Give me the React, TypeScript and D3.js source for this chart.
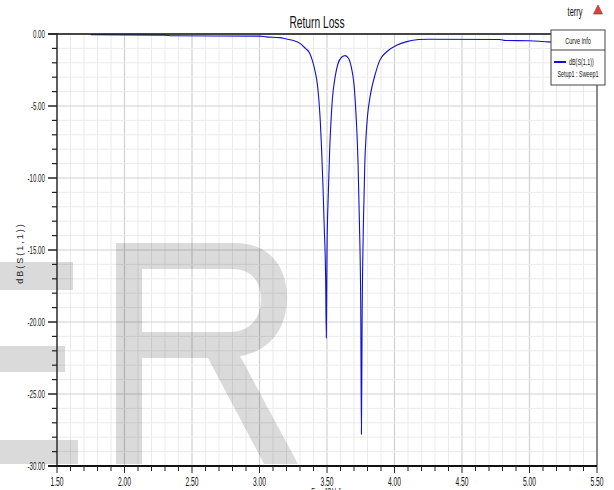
import React from "react";
import * as d3 from "d3";

const freq = [1.75, 2.3, 2.35, 3.0, 3.05, 3.15, 3.2, 3.25, 3.3, 3.34, 3.37, 3.39, 3.41, 3.43, 3.44, 3.45, 3.46, 3.47, 3.48, 3.49, 3.495, 3.5, 3.51, 3.52, 3.53, 3.54, 3.56, 3.58, 3.61, 3.635, 3.66, 3.68, 3.7, 3.71, 3.72, 3.73, 3.74, 3.75, 3.755, 3.76, 3.77, 3.78, 3.79, 3.8, 3.82, 3.86, 3.89, 3.94, 4.02, 4.09, 4.18, 4.25, 4.78, 4.82, 5.0, 5.1, 5.2, 5.5];
const dbS11 = [-0.05, -0.08, -0.12, -0.15, -0.2, -0.25, -0.35, -0.45, -0.65, -1.0, -1.3, -1.8, -2.5, -3.6, -4.6, -6.0, -8.0, -10.5, -13.5, -17.0, -21.1, -15.0, -11.0, -8.0, -6.0, -4.5, -3.0, -2.1, -1.6, -1.5, -1.7, -2.3, -3.5, -4.8, -6.5, -9.0, -13.0, -19.0, -27.8, -20.0, -13.0, -9.0, -7.0, -5.7, -4.3, -2.7, -1.85, -1.25, -0.76, -0.53, -0.38, -0.36, -0.38, -0.45, -0.47, -0.52, -0.58, -0.6];
const xTicks = [1.5, 2.0, 2.5, 3.0, 3.5, 4.0, 4.5, 5.0, 5.5];
const yTicks = [0, -5, -10, -15, -20, -25, -30];
const title = "Return Loss";
const xLabel = "Freq [GHz]";
const yLabel = "dB(S(1,1))";
const legendHeader = "Curve Info";
const seriesName = "dB(S(1,1))";
const setupName = "Setup1 : Sweep1";
const user = "terry";

const L = 57, R = 597, T = 34, B = 466;
const FONT = "'Liberation Sans', Arial, sans-serif";

function CText({ x, y, text, size, sx = 0.62, anchor = "middle", fill = "#111", weight = "normal" }: any) {
  return (
    <text transform={`translate(${x},${y}) scale(${sx},1)`} textAnchor={anchor} fontSize={size} fontFamily={FONT} fill={fill} fontWeight={weight}>
      {text}
    </text>
  );
}

const WATERMARK_R =
  "M116,243 L235,243 C268,243 287,265 287,298 C287,330 268,352 240,356 L298,464 L264,464 L208,358 L142,358 L142,464 L116,464 Z " +
  "M142,269 L232,269 C252,269 261,282 261,299 C261,318 250,332 230,332 L142,332 Z";

export default function App() {
  const x = d3.scaleLinear().domain([1.5, 5.5]).range([L, R]);
  const y = d3.scaleLinear().domain([0, -30]).range([T, B]);
  const minorX = d3.range(15, 56).map((v) => v / 10);
  const minorY = d3.range(0, 31).map((v) => -v);
  const line = d3.line<number>().x((_, i) => x(freq[i])).y((d) => y(d)).curve(d3.curveMonotoneX);
  const isMajorX = (v: number) => Math.abs(v * 2 - Math.round(v * 2)) < 1e-6;
  const isMajorY = (v: number) => Math.abs(v) % 5 === 0;

  return (
    <svg width={614} height={490} style={{ position: "absolute", left: 0, top: 0, background: "#fff" }}>
      <rect x={0} y={0} width={614} height={490} fill="#fff" />
      {/* grid */}
      {minorX.map((v) => (
        <line key={"gx" + v} x1={x(v)} x2={x(v)} y1={T} y2={B} stroke={isMajorX(v) ? "#d0d0d0" : "#ebebeb"} strokeWidth={isMajorX(v) ? 1.2 : 1} />
      ))}
      {minorY.map((v) => (
        <line key={"gy" + v} x1={L} x2={R} y1={y(v)} y2={y(v)} stroke={isMajorY(v) ? "#d0d0d0" : "#ebebeb"} strokeWidth={isMajorY(v) ? 1.2 : 1} />
      ))}
      {/* watermark */}
      <g fill="#000" opacity={0.14}>
        <rect x={0} y={262} width={73} height={28} />
        <rect x={0} y={346} width={65} height={26} />
        <rect x={0} y={440} width={78} height={24} />
        <path d={WATERMARK_R} fillRule="evenodd" />
      </g>
      {/* curve */}
      <defs>
        <clipPath id="plotclip">
          <rect x={L} y={T - 2} width={R - L} height={B - T + 4} />
        </clipPath>
      </defs>
      <path d={line(dbS11) || ""} fill="none" stroke="#1010d8" strokeWidth={1.1} clipPath="url(#plotclip)" />
      {/* axes */}
      <line x1={R} x2={R} y1={T} y2={B} stroke="#333" strokeWidth={1} />
      <line x1={L} x2={L} y1={T} y2={B} stroke="#333" strokeWidth={1.5} />
      <line x1={48} x2={R} y1={T} y2={T} stroke="#111" strokeWidth={1.6} />
      <line x1={48} x2={R} y1={B} y2={B} stroke="#111" strokeWidth={2} />
      {minorY.map((v) => (
        <line key={"ty" + v} x1={isMajorY(v) ? 48 : 52} x2={L} y1={y(v)} y2={y(v)} stroke="#222" strokeWidth={isMajorY(v) ? 1.5 : 1.2} />
      ))}
      {minorX.map((v) => (
        <line key={"tx" + v} x1={x(v)} x2={x(v)} y1={B} y2={B + (isMajorX(v) ? 7 : 5)} stroke="#222" strokeWidth={1} />
      ))}
      {yTicks.map((v) => (
        <CText key={"yl" + v} x={45} y={y(v) + 3.5} text={v.toFixed(2)} size={10} sx={0.62} anchor="end" />
      ))}
      {xTicks.map((v) => (
        <CText key={"xl" + v} x={x(v)} y={486} text={v.toFixed(2)} size={12} sx={0.56} anchor="middle" />
      ))}
      {/* title */}
      <CText x={317} y={28} text={title} size={16} sx={0.64} />
      <CText x={326} y={496} text={xLabel} size={10} sx={0.6} />
      <text transform={`translate(23,253) rotate(-90)`} textAnchor="middle" fontSize={9} fontFamily={FONT} letterSpacing={2} fill="#222">{yLabel}</text>
      {/* user + icon */}
      <CText x={575} y={16} text={user} size={12} sx={0.62} />
      <path d="M598,5 L602.5,14 L593.5,14 Z" fill="#e04040" stroke="#a02020" strokeWidth={0.6} />
      {/* legend */}
      <rect x={551} y={30} width={54} height={55} fill="#fff" stroke="#444" strokeWidth={1} />
      <line x1={551} x2={605} y1={50} y2={50} stroke="#444" strokeWidth={1} />
      <CText x={578} y={44} text={legendHeader} size={9} sx={0.62} />
      <line x1={554} x2={566} y1={62} y2={62} stroke="#1010d8" strokeWidth={2} />
      <CText x={569} y={65} text={seriesName} size={9} sx={0.6} anchor="start" />
      <CText x={578} y={77} text={setupName} size={9} sx={0.6} />
    </svg>
  );
}
